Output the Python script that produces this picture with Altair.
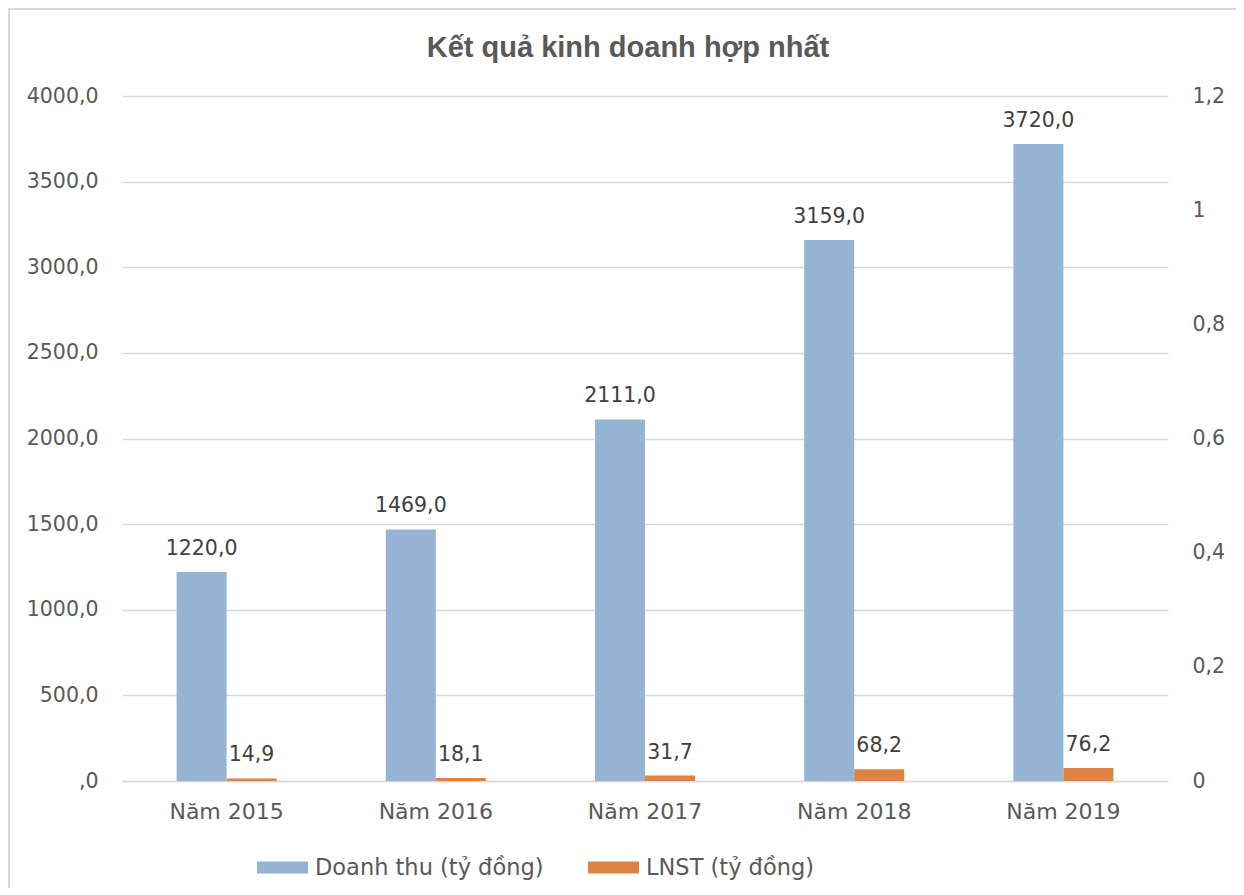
import altair as alt
import pandas as pd

# ---- data ----
years = ["Năm 2015", "Năm 2016", "Năm 2017", "Năm 2018", "Năm 2019"]
series_names = ["Doanh thu (tỷ đồng)", "LNST (tỷ đồng)"]
doanh_thu = [1220.0, 1469.0, 2111.0, 3159.0, 3720.0]
lnst = [14.9, 18.1, 31.7, 68.2, 76.2]
left_ticks = [0, 500, 1000, 1500, 2000, 2500, 3000, 3500, 4000]
right_ticks = [0, 0.2, 0.4, 0.6, 0.8, 1, 1.2]
colors = ["#95B4D4", "#DF8244"]
title_text = "Kết quả kinh doanh hợp nhất"

rows = []
for y, v in zip(years, doanh_thu):
    rows.append({"year": y, "series": series_names[0], "value": v, "label": f"{v:.1f}".replace(".", ",")})
for y, v in zip(years, lnst):
    rows.append({"year": y, "series": series_names[1], "value": v, "label": f"{v:.1f}".replace(".", ",")})
df = pd.DataFrame(rows)

FONT = "DejaVu Sans"
TXT = "#595959"
GRID = "#D9D9D9"

x_enc = alt.X(
    "year:N", sort=years,
    scale=alt.Scale(paddingInner=0.522, paddingOuter=0.261),
    axis=alt.Axis(title=None, labelAngle=0, labelFont=FONT, labelFontSize=22,
                  labelColor=TXT, labelPadding=20, ticks=False,
                  domainColor=GRID, domainWidth=1.5, grid=False),
)
xoff_enc = alt.XOffset("series:N", sort=series_names,
                       scale=alt.Scale(paddingInner=0, paddingOuter=0))
y_enc = alt.Y(
    "value:Q", scale=alt.Scale(domain=[0, 4000], nice=False),
    axis=alt.Axis(title=None, values=left_ticks, labelFont=FONT, labelFontSize=20.5,
                  labelColor=TXT, labelPadding=24, ticks=False, domain=False,
                  gridColor=GRID, gridWidth=1.5,
                  labelExpr="datum.value == 0 ? ',0' : replace(format(datum.value, '.1f'), '.', ',')"),
)

base = alt.Chart(df)
bars = base.mark_bar().encode(
    x=x_enc, xOffset=xoff_enc, y=y_enc,
    color=alt.Color(
        "series:N", sort=series_names,
        scale=alt.Scale(domain=series_names, range=colors),
        legend=alt.Legend(
            title=None, orient="none", legendX=135, legendY=746, direction="horizontal",
            symbolType="M-1,-0.235H1V0.235H-1Z", symbolSize=2601, symbolStrokeWidth=0,
            labelFont=FONT, labelFontSize=22.5, labelColor=TXT, labelOffset=7,
            labelLimit=500, columnPadding=44,
        ),
    ),
)
labels = base.mark_text(baseline="bottom", dy=-13, font=FONT, fontSize=20.5, color="#404040").encode(
    x=alt.X("year:N", sort=years), xOffset=alt.XOffset("series:N", sort=series_names),
    y=alt.Y("value:Q"), text="label:N",
)
main = alt.layer(bars, labels)

right_df = pd.DataFrame({"r": [0, 1.2]})
right_axis = alt.Chart(right_df).mark_point(opacity=0).encode(
    y=alt.Y("r:Q", scale=alt.Scale(domain=[0, 1.2], nice=False),
            axis=alt.Axis(title=None, orient="right", values=right_ticks, labelFont=FONT,
                          labelFontSize=20.5, labelColor=TXT, labelPadding=24, ticks=False,
                          domain=False, grid=False, format="~g",
                          labelExpr="replace(datum.label, '.', ',')")),
)

deco = alt.Chart(pd.DataFrame({"t": [title_text]}))
frame = deco.mark_rect(fillOpacity=0, stroke="#D9D9D9", strokeWidth=2).encode(
    x=alt.value(-113), x2=alt.value(1118), y=alt.value(-87), y2=alt.value(900))
title = deco.mark_text(font="Liberation Sans", fontSize=29, fontWeight="bold", color=TXT,
                       baseline="middle", align="center").encode(
    text="t:N", x=alt.value(506), y=alt.value(-48))

chart = alt.layer(frame, title, main, right_axis).resolve_scale(y="independent").properties(
    width=1046, height=685,
    autosize=alt.AutoSizeParams(type="none"),
    padding={"left": 114, "top": 88, "right": 68, "bottom": 107},
).configure_view(stroke=None)

chart.save("out.html", embed_options={"renderer": "svg", "actions": False})
